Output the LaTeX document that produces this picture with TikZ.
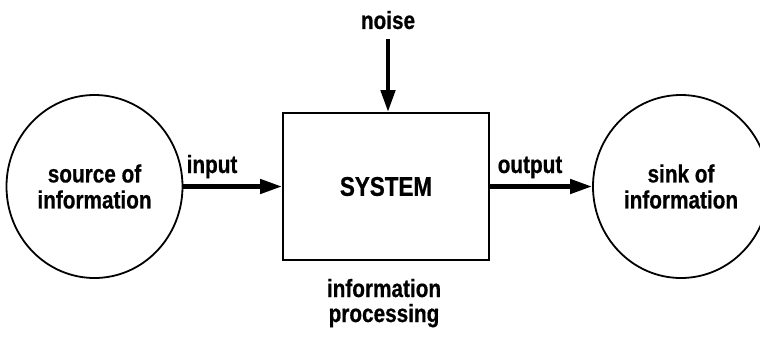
\documentclass[tikz,border=0pt]{standalone}
\usepackage{fontspec}
\setmainfont[FakeStretch=0.83,BoldFeatures={FakeBold=0.6}]{Liberation Sans}
\usetikzlibrary{arrows.meta,shapes.geometric}
\begin{document}
\begin{tikzpicture}[x=1pt,y=-1pt,
  lbl/.style={font=\bfseries\fontsize{25}{26}\selectfont, inner sep=0pt},
  blob/.style={draw, line width=1.8pt, ellipse, inner sep=0pt,
               minimum width=176pt, minimum height=183pt, align=center,
               font=\bfseries\fontsize{25}{26}\selectfont},
  sysbox/.style={draw, line width=1.8pt, rectangle, inner sep=0pt,
                 minimum width=206pt, minimum height=147pt,
                 font=\bfseries\fontsize{27}{28}\selectfont},
  flow/.style={line width=4.5pt, -{Triangle[length=22pt,width=14pt]}}]
  \useasboundingbox (0,0) rectangle (760,338);
  \begin{scope}
    \clip (0,0) rectangle (760,338);
    % source, system and sink
    \node[blob]   (src) at (94.5,186.5) {source of\\information};
    \node[sysbox] (sys) at (386,186.5)  {SYSTEM};
    \node[blob]   (snk) at (681,186.5)  {sink of\\information};
  \end{scope}
  % labels
  \node[lbl] (noise) at (388,20) {noise};
  \node[lbl, anchor=base] (in)  at (212,173) {input};
  \node[lbl, anchor=base] (out) at (530,173) {output};
  \node[lbl, align=center, anchor=base,
        font=\bfseries\fontsize{25}{25}\selectfont] (proc) at (384,322)
       {information\\processing};
  % information flow
  \draw[flow] (src.east) -- (sys.west);
  \draw[flow] (sys.east) -- (snk.west);
  \draw[flow] ([yshift=-10pt]noise.south) -- (noise.south |- sys.north);
\end{tikzpicture}
\end{document}
